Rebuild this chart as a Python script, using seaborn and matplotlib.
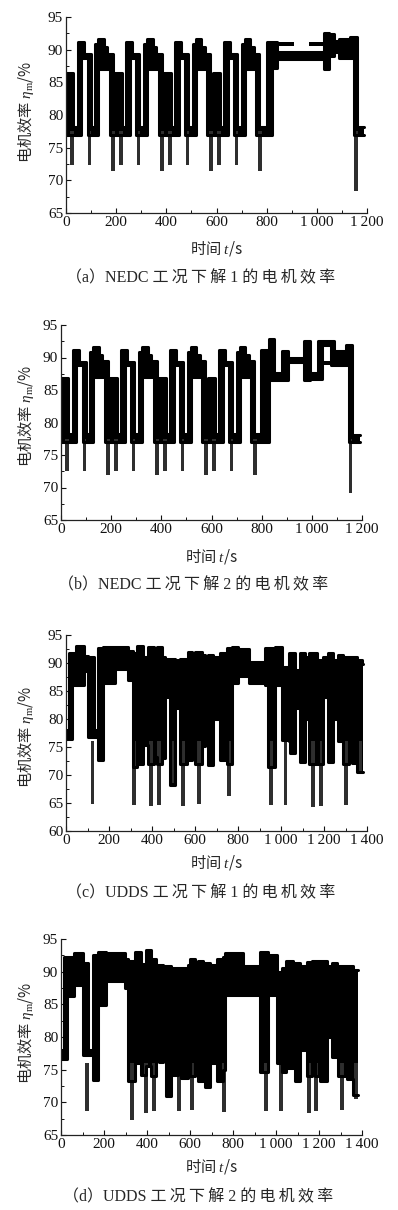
import numpy as np
import pandas as pd
import seaborn as sns
import matplotlib.pyplot as plt
from matplotlib.ticker import MultipleLocator, FuncFormatter

# ---- (a) NEDC, solution 1: step envelope of the dense marker band ----
a_t = [0, 28, 46, 60, 70, 86, 98, 116, 128, 150, 165, 174, 186,
       195, 223, 241, 255, 265, 281, 293, 311, 323, 345, 360, 369, 381,
       390, 418, 436, 450, 460, 476, 488, 506, 518, 540, 555, 564, 576,
       585, 613, 631, 645, 655, 671, 683, 701, 713, 735, 750, 759, 771,
       802, 822, 840, 1027, 1047, 1067, 1090, 1133, 1148, 1160, 1187]
a_lo = [77.0, 77.0, 77.0, 88.8, 88.8, 77.0, 77.0, 77.0, 87.0, 87.0, 87.0, 77.0, 77.0,
        77.0, 77.0, 77.0, 88.8, 88.8, 77.0, 77.0, 77.0, 87.0, 87.0, 87.0, 77.0, 77.0,
        77.0, 77.0, 77.0, 88.8, 88.8, 77.0, 77.0, 77.0, 87.0, 87.0, 87.0, 77.0, 77.0,
        77.0, 77.0, 77.0, 88.8, 88.8, 77.0, 77.0, 77.0, 87.0, 87.0, 87.0, 77.0, 77.0,
        77.0, 87.2, 88.6, 87.1, 89.0, 89.6, 88.8, 88.8, 77.0, 77.0, 77.0]
a_hi = [86.4, 78.2, 91.1, 91.1, 89.3, 89.3, 78.2, 90.8, 91.6, 90.4, 89.4, 89.4, 78.2,
        86.4, 78.2, 91.1, 91.1, 89.3, 89.3, 78.2, 90.8, 91.6, 90.4, 89.4, 89.4, 78.2,
        86.4, 78.2, 91.1, 91.1, 89.3, 89.3, 78.2, 90.8, 91.6, 90.4, 89.4, 89.4, 78.2,
        86.4, 78.2, 91.1, 91.1, 89.3, 89.3, 78.2, 90.8, 91.6, 90.4, 89.4, 89.4, 78.2,
        91.1, 91.1, 89.6, 92.6, 92.4, 91.4, 91.6, 92.0, 92.0, 78.2, 78.2]
a_band_t0 = [840, 967]
a_band_t1 = [907, 1027]
a_band_lo = [90.5, 90.5]
a_band_hi = [91.1, 91.1]
a_dip_t = [24, 94, 188, 219, 289, 383, 414, 484, 578, 609, 679, 773, 1157]
a_dip_lo = [72.3, 72.3, 71.5, 72.3, 72.3, 71.5, 72.3, 72.3, 71.5, 72.3, 72.3, 71.5, 68.3]

# ---- (b) NEDC, solution 2 ----
b_t = [0, 28, 46, 60, 70, 86, 98, 116, 128, 150, 165, 174, 186,
       195, 223, 241, 255, 265, 281, 293, 311, 323, 345, 360, 369, 381,
       390, 418, 436, 450, 460, 476, 488, 506, 518, 540, 555, 564, 576,
       585, 613, 631, 645, 655, 671, 683, 701, 713, 735, 750, 759, 771,
       798, 830, 850, 883, 903, 970, 994, 1025, 1040, 1075, 1087, 1138, 1148, 1160, 1193]
b_lo = [77.0, 77.0, 77.0, 88.8, 88.8, 77.0, 77.0, 77.0, 87.0, 87.0, 87.0, 77.0, 77.0,
        77.0, 77.0, 77.0, 88.8, 88.8, 77.0, 77.0, 77.0, 87.0, 87.0, 87.0, 77.0, 77.0,
        77.0, 77.0, 77.0, 88.8, 88.8, 77.0, 77.0, 77.0, 87.0, 87.0, 87.0, 77.0, 77.0,
        77.0, 77.0, 77.0, 88.8, 88.8, 77.0, 77.0, 77.0, 87.0, 87.0, 87.0, 77.0, 77.0,
        77.0, 86.5, 86.5, 86.5, 89.3, 86.5, 86.7, 86.7, 91.9, 88.8, 88.8, 88.8, 77.0, 77.0, 77.0]
b_hi = [86.8, 78.2, 91.1, 91.1, 89.3, 89.3, 78.2, 90.8, 91.6, 90.4, 89.4, 89.4, 78.2,
        86.8, 78.2, 91.1, 91.1, 89.3, 89.3, 78.2, 90.8, 91.6, 90.4, 89.4, 89.4, 78.2,
        86.8, 78.2, 91.1, 91.1, 89.3, 89.3, 78.2, 90.8, 91.6, 90.4, 89.4, 89.4, 78.2,
        86.8, 78.2, 91.1, 91.1, 89.3, 89.3, 78.2, 90.8, 91.6, 90.4, 89.4, 89.4, 78.2,
        91.1, 92.8, 87.6, 91.0, 89.9, 92.5, 87.6, 92.5, 92.5, 92.5, 91.0, 92.0, 92.0, 78.1, 78.1]
b_band_t0 = [1040]
b_band_t1 = [1075]
b_band_lo = [88.8]
b_band_hi = [89.4]
b_dip_t = [24, 94, 188, 219, 289, 383, 414, 484, 578, 609, 679, 773, 1155]
b_dip_lo = [72.5, 72.5, 72.0, 72.5, 72.5, 72.0, 72.5, 72.5, 72.0, 72.5, 72.5, 72.0, 69.2]

# ---- (c) UDDS, solution 1 ----
c_t = [0, 12, 28, 45, 82, 104, 128, 150, 172, 230, 290, 310, 330, 358, 381, 408, 421,
       445, 462, 484, 507, 530, 561, 569, 586, 600, 631, 647, 662, 686, 716, 740, 747,
       770, 800, 850, 925, 940, 971, 1005, 1035, 1041, 1063, 1088, 1111, 1130, 1166,
       1173, 1197, 1220, 1244, 1265, 1290, 1315, 1328, 1352, 1375, 1383]
c_lo = [76.5, 76.5, 86.1, 86.1, 88.5, 76.8, 76.8, 72.7, 86.4, 89.0, 87.0, 71.5, 72.0,
        75.4, 72.0, 73.3, 72.0, 73.0, 84.0, 68.2, 82.0, 72.0, 84.0, 72.7, 83.0, 72.0,
        75.1, 86.0, 71.8, 80.0, 72.7, 84.0, 72.0, 86.4, 87.6, 86.4, 86.0, 71.5, 86.0,
        76.2, 76.0, 73.9, 82.0, 72.4, 80.0, 72.0, 78.0, 72.0, 84.0, 72.4, 80.0, 76.0,
        72.0, 84.0, 72.1, 70.6, 70.6, 70.6]
c_hi = [78.0, 91.7, 91.7, 93.0, 91.3, 91.1, 78.0, 92.6, 92.9, 92.9, 92.2, 91.7, 93.0,
        91.1, 92.9, 91.1, 92.9, 91.0, 90.8, 90.8, 90.6, 90.8, 90.5, 92.0, 91.0, 92.0,
        91.4, 91.2, 91.4, 91.1, 91.7, 91.5, 92.6, 92.9, 92.5, 90.2, 92.6, 92.6, 92.9,
        89.3, 91.7, 91.7, 88.7, 91.7, 91.0, 91.7, 90.5, 90.5, 91.1, 91.7, 90.5, 91.4,
        91.0, 91.0, 91.0, 90.5, 89.9, 89.9]
c_dip_t = [123, 317, 394, 433, 495, 545, 619, 758, 955, 1021, 1150, 1185, 1301, 1370]
c_dip_lo = [64.8, 64.6, 64.5, 64.6, 68.5, 64.5, 64.8, 66.3, 64.6, 64.6, 64.3, 64.4, 64.6, 70.5]

# ---- (d) UDDS, solution 2 ----
d_t = [0, 14, 28, 60, 102, 126, 149, 172, 211, 296, 312, 343, 371, 397, 420, 443, 455,
       475, 490, 513, 544, 560, 590, 598, 622, 637, 660, 668, 691, 699, 724, 755, 763,
       848, 925, 964, 1003, 1026, 1047, 1077, 1089, 1112, 1143, 1166, 1180, 1205, 1236,
       1259, 1282, 1290, 1321, 1328, 1359, 1383]
d_lo = [76.7, 76.7, 86.2, 88.0, 77.2, 77.2, 73.4, 84.9, 88.5, 87.5, 73.2, 76.0, 74.2,
        75.5, 74.0, 84.0, 76.2, 84.0, 70.9, 74.2, 76.0, 73.7, 84.0, 74.0, 84.0, 73.2,
        84.0, 72.4, 84.0, 76.0, 73.2, 75.0, 86.4, 86.4, 74.7, 86.5, 76.0, 74.7, 75.2,
        84.0, 73.2, 78.0, 74.0, 80.0, 74.0, 73.2, 80.0, 77.0, 84.0, 74.0, 84.0, 73.5,
        71.1, 71.1]
d_hi = [78.0, 92.3, 92.3, 92.8, 91.3, 78.0, 92.5, 93.0, 92.8, 92.0, 91.7, 93.0, 91.1,
        93.3, 92.0, 91.0, 91.0, 90.8, 90.8, 90.6, 90.6, 90.6, 91.0, 92.0, 91.4, 91.6,
        91.3, 91.3, 91.0, 91.0, 92.0, 92.3, 92.9, 90.8, 93.0, 92.6, 90.0, 90.5, 91.7,
        90.2, 91.3, 90.8, 91.5, 91.6, 91.6, 91.7, 90.8, 91.4, 90.5, 90.8, 90.8, 90.8,
        90.3, 90.3]
d_dip_t = [121, 332, 397, 432, 548, 610, 759, 955, 1022, 1155, 1185, 1305, 1372]
d_dip_lo = [68.6, 67.3, 68.3, 68.6, 68.6, 68.8, 68.5, 68.6, 68.6, 68.3, 68.6, 68.8, 70.5]

ts = '\u2009'
captions = [f'（a）NEDC 工{ts}况{ts}下{ts}解 1 的{ts}电{ts}机{ts}效{ts}率',
            f'（b）NEDC 工{ts}况{ts}下{ts}解 2 的{ts}电{ts}机{ts}效{ts}率',
            f'（c）UDDS 工{ts}况{ts}下{ts}解 1 的{ts}电{ts}机{ts}效{ts}率',
            f'（d）UDDS 工{ts}况{ts}下{ts}解 2 的{ts}电{ts}机{ts}效{ts}率']

sns.set_theme(style='ticks')
plt.rcParams['font.family'] = ['Liberation Serif', 'Noto Sans CJK SC']
plt.rcParams['mathtext.fontset'] = 'custom'
plt.rcParams['mathtext.rm'] = 'Liberation Serif'
plt.rcParams['mathtext.it'] = 'Liberation Serif:italic'
plt.rcParams['mathtext.bf'] = 'Liberation Serif:bold'
plt.rcParams['axes.unicode_minus'] = False
plt.rcParams['xtick.direction'] = 'in'
plt.rcParams['ytick.direction'] = 'in'

W, H = 398, 1210
fig = plt.figure(figsize=(W / 100, H / 100), dpi=100)
CJK = 'Noto Sans CJK SC'


def px_rect(left, top, right, bottom):
    return [left / W, 1 - bottom / H, (right - left) / W, (bottom - top) / H]


def thousands(v, pos):
    v = int(round(v))
    return f'{v:,}'.replace(',', '\u2009')


def draw_panel(ax, t, lo, hi, dip_t, dip_lo, dip_top, dip_w, bands=None):
    df = pd.DataFrame({'t': t, 'lo': lo, 'hi': hi})
    ax.fill_between(df['t'], df['lo'], df['hi'], step='post', color='black', lw=0)
    sns.lineplot(data=df, x='t', y='hi', drawstyle='steps-post', color='black',
                 lw=2.2, estimator=None, ax=ax)
    sns.lineplot(data=df, x='t', y='lo', drawstyle='steps-post', color='black',
                 lw=2.2, estimator=None, ax=ax)
    if bands is not None:
        t0, t1, blo, bhi = bands
        ax.bar(t0, np.subtract(bhi, blo), bottom=blo, width=np.subtract(t1, t0),
               align='edge', color='black', lw=0)
    ax.bar(dip_t, dip_top - np.asarray(dip_lo), bottom=dip_lo, width=dip_w,
           color='#2e2e2e', lw=0)


panels = [
    dict(rect=px_rect(66, 17, 367, 213), xmax=1200, ymin=65,
         data=(a_t, a_lo, a_hi, a_dip_t, a_dip_lo, 77.5, 14),
         bands=(a_band_t0, a_band_t1, a_band_lo, a_band_hi),
         ylab_y=112, xlab_y=248, cap=(201, 278)),
    dict(rect=px_rect(61, 325, 362, 520), xmax=1200, ymin=65,
         data=(b_t, b_lo, b_hi, b_dip_t, b_dip_lo, 77.5, 14),
         bands=(b_band_t0, b_band_t1, b_band_lo, b_band_hi),
         ylab_y=416, xlab_y=557, cap=(193, 585)),
    dict(rect=px_rect(66, 635, 367, 831), xmax=1400, ymin=60,
         data=(c_t, c_lo, c_hi, c_dip_t, c_dip_lo, 76.0, 18),
         bands=None, ylab_y=737, xlab_y=863, cap=(201, 893)),
    dict(rect=px_rect(61, 939, 362, 1135), xmax=1400, ymin=65,
         data=(d_t, d_lo, d_hi, d_dip_t, d_dip_lo, 76.0, 18),
         bands=None, ylab_y=1033, xlab_y=1167, cap=(198, 1197)),
]

for p, cap in zip(panels, captions):
    ax = fig.add_axes(p['rect'])
    draw_panel(ax, *p['data'], bands=p['bands'])
    ax.set_xlim(0, p['xmax'])
    ax.set_ylim(p['ymin'], 95)
    ax.xaxis.set_major_locator(MultipleLocator(200))
    ax.xaxis.set_minor_locator(MultipleLocator(100))
    ax.yaxis.set_major_locator(MultipleLocator(5))
    ax.yaxis.set_minor_locator(MultipleLocator(2.5))
    ax.xaxis.set_major_formatter(FuncFormatter(thousands))
    ax.tick_params(which='major', length=3.5, width=0.8, labelsize=11, pad=2,
                   colors='#111111')
    ax.tick_params(which='minor', length=2, width=0.7, colors='#111111')
    sns.despine(ax=ax)
    for s in ('left', 'bottom'):
        ax.spines[s].set_color('#222222')
        ax.spines[s].set_linewidth(0.9)
    ax.set_xlabel('')
    ax.set_ylabel('')
    x0 = p['rect'][0] * W
    fig.text(26 / W, 1 - p['ylab_y'] / H, '电机效率 $\\eta_{\\rm m}$/%',
             rotation=90, ha='center', va='center', fontsize=11, family=CJK)
    fig.text((x0 + 150) / W, 1 - p['xlab_y'] / H, '时间 $t$/s',
             ha='center', va='center', fontsize=11, family=CJK)
    fig.text(p['cap'][0] / W, 1 - p['cap'][1] / H, cap,
             ha='center', va='center', fontsize=11.5)

fig.savefig('out.png', dpi=100)
